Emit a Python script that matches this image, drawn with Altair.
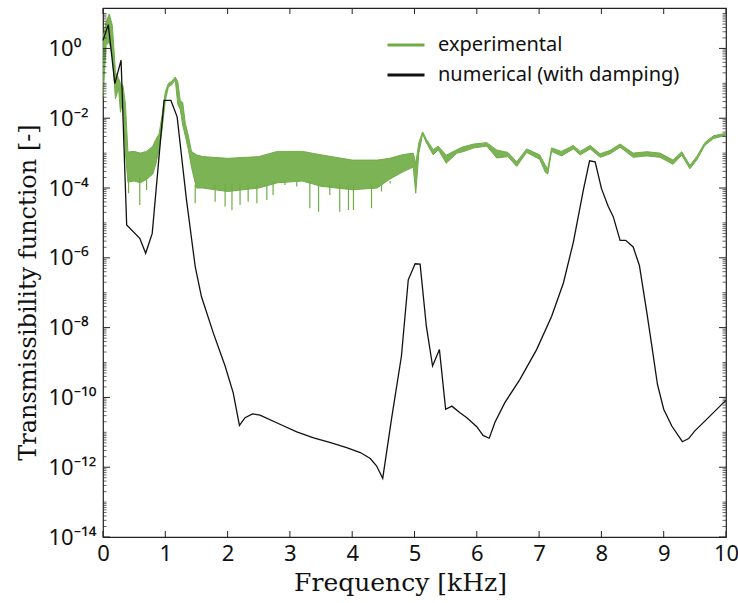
import altair as alt
import pandas as pd

# ---------------- data ----------------
# numerical (with damping): frequency [kHz] and log10 of transmissibility
num_f = [0.0, 0.085, 0.19, 0.29, 0.38, 0.59, 0.685, 0.79, 0.98, 1.09, 1.19, 1.34,
         1.48, 1.58, 1.77, 1.96, 2.09, 2.19, 2.28, 2.40, 2.52, 2.84, 3.11, 3.38,
         3.64, 3.91, 4.13, 4.29, 4.39, 4.49, 4.63, 4.79, 4.90, 5.01, 5.09, 5.19,
         5.29, 5.40, 5.50, 5.60, 5.73, 5.84, 6.00, 6.10, 6.20, 6.29, 6.45, 6.69,
         6.96, 7.20, 7.39, 7.55, 7.71, 7.81, 7.90, 8.00, 8.11, 8.19, 8.30, 8.39,
         8.51, 8.61, 8.73, 8.81, 8.90, 9.00, 9.13, 9.30, 9.40, 9.50, 9.66, 9.96, 10.0]
num_e = [0.23, 0.68, -1.01, -0.34, -5.06, -5.44, -5.87, -5.30, -1.49, -1.49, -1.96, -4.34,
         -6.25, -7.11, -8.15, -9.10, -9.87, -10.80, -10.58, -10.47, -10.51, -10.77, -10.99, -11.16,
         -11.29, -11.44, -11.58, -11.75, -11.96, -12.32, -10.63, -8.82, -6.63, -6.17, -6.18, -7.96,
         -9.10, -8.63, -10.34, -10.25, -10.44, -10.58, -10.84, -11.09, -11.17, -10.72, -10.15, -9.49,
         -8.63, -7.68, -6.72, -5.55, -4.06, -3.22, -3.25, -4.01, -4.53, -4.82, -5.50, -5.50,
         -5.69, -6.22, -7.58, -8.53, -9.63, -10.34, -10.82, -11.27, -11.18, -10.96, -10.68, -10.15, -10.08]

# experimental: lower / upper envelope of the measured trace (log10)
exp_f = [0.0, 0.05, 0.10, 0.15, 0.20, 0.25, 0.28, 0.32, 0.36, 0.40, 0.50, 0.60, 0.70,
         0.80, 0.85, 0.90, 0.95, 1.00, 1.05, 1.10, 1.16, 1.20, 1.24, 1.28, 1.32, 1.37,
         1.42, 1.50, 1.60, 2.00, 2.50, 2.80, 3.20, 3.50, 4.00, 4.40, 4.60, 4.80, 4.98,
         5.02, 5.07, 5.13, 5.19, 5.30, 5.38, 5.51, 5.68, 5.78, 5.95, 6.16, 6.32, 6.50,
         6.64, 6.80, 7.01, 7.10, 7.14, 7.20, 7.36, 7.55, 7.66, 7.82, 7.98, 8.14, 8.30,
         8.51, 8.73, 8.94, 9.15, 9.29, 9.42, 9.53, 9.66, 9.80, 9.98, 10.0]
exp_lo = [-1.43, 0.09, 0.18, -0.20, -1.44, -1.14, -1.83, -1.45, -3.00, -3.83, -3.80, -3.85, -3.75,
          -3.60, -3.30, -2.90, -2.30, -1.50, -1.10, -1.05, -0.90, -1.60, -1.75, -2.20, -2.50, -2.90,
          -3.40, -4.00, -4.00, -4.10, -4.00, -3.85, -3.80, -3.95, -4.05, -4.00, -3.75, -3.55, -3.40,
          -4.15, -3.00, -2.45, -2.70, -3.05, -2.90, -3.29, -3.00, -2.96, -2.85, -2.80, -3.14, -3.10,
          -3.38, -2.98, -3.18, -3.55, -3.60, -2.95, -3.08, -2.88, -3.05, -2.88, -3.12, -3.02, -2.83,
          -3.12, -3.08, -3.12, -3.32, -3.06, -3.45, -3.20, -2.78, -2.58, -2.50, -2.50]
exp_hi = [0.29, 0.75, 0.99, 0.66, -0.68, -0.86, -1.00, -1.06, -1.60, -2.97, -2.95, -3.00, -2.95,
          -2.80, -2.60, -2.45, -1.90, -1.25, -1.00, -0.95, -0.82, -0.95, -1.50, -1.55, -2.14, -2.50,
          -2.95, -3.05, -3.10, -3.15, -3.10, -2.95, -2.95, -3.05, -3.20, -3.20, -3.15, -3.05, -3.00,
          -3.30, -2.70, -2.39, -2.60, -2.90, -2.80, -3.06, -2.90, -2.82, -2.74, -2.70, -2.91, -2.98,
          -3.25, -2.88, -3.05, -3.35, -3.45, -2.85, -2.95, -2.78, -2.95, -2.78, -3.02, -2.92, -2.74,
          -3.00, -2.96, -3.00, -3.20, -2.96, -3.35, -3.10, -2.70, -2.50, -2.44, -2.44]

# downward spikes of the measured trace (log10)
spk_f = [0.41, 0.59, 0.70, 1.48, 1.80, 1.96, 2.07, 2.20, 2.33, 2.47, 2.63, 2.73, 2.92,
         3.11, 3.32, 3.46, 3.64, 3.80, 3.94, 4.02, 4.31, 4.47, 4.61]
spk_top = [-3.7, -3.7, -3.7, -3.9, -3.9, -3.9, -3.9, -3.9, -3.9, -3.9, -3.9, -3.8, -3.8,
           -3.8, -3.8, -3.9, -3.9, -3.9, -3.9, -3.9, -3.9, -3.9, -3.8]
spk_bot = [-4.15, -4.49, -4.06, -4.44, -4.39, -4.53, -4.63, -4.49, -4.39, -4.44, -4.34, -4.20, -3.91,
           -3.96, -4.58, -4.68, -4.20, -4.68, -4.63, -4.63, -4.58, -4.10, -3.87]

series_names = ["experimental", "numerical (with damping)"]
series_colors = ["#70ad47", "#111111"]

# tick positions
x_ticks = list(range(0, 11))
y_major = [10.0 ** k for k in range(-14, 1, 2)]
y_minor = [n * 10.0 ** k for k in range(-14, 2) for n in range(1, 10)
           if n * 10.0 ** k <= 14.0 and not (n == 1 and k % 2 == 0 and k <= 0)]

assert len(num_f) == len(num_e)
assert len(exp_f) == len(exp_lo) == len(exp_hi)
assert len(spk_f) == len(spk_top) == len(spk_bot)

# ---------------- tables ----------------
num_df = pd.DataFrame({"f": num_f, "t": [10.0 ** e for e in num_e], "series": series_names[1]})
exp_df = pd.DataFrame({"f": exp_f, "lo": [10.0 ** e for e in exp_lo],
                       "hi": [10.0 ** e for e in exp_hi], "series": series_names[0]})
spk_df = pd.DataFrame({"f": spk_f, "top": [10.0 ** e for e in spk_top],
                       "bot": [10.0 ** e for e in spk_bot]})
xt_df = pd.DataFrame({"f": x_ticks})
ymaj_df = pd.DataFrame({"v": y_major})
ymin_df = pd.DataFrame({"v": y_minor})

W, H = 623, 529
GREEN = series_colors[0]
TICK = "#222222"
LABEL_FONT = "Noto Sans"
TITLE_FONT = "DejaVu Serif"
xscale = alt.Scale(domain=[0, 10], nice=False, zero=False)
yscale = alt.Scale(type="log", domain=[1e-14, 14.4], nice=False)

sup = {"0": "\u2070", "1": "\u00b9", "2": "\u00b2", "3": "\u00b3", "4": "\u2074",
       "5": "\u2075", "6": "\u2076", "7": "\u2077", "8": "\u2078", "9": "\u2079", "-": "\u207b"}
parts = []
for k in range(-14, 1, 2):
    lab = "10" + "".join(sup[c] for c in str(k))
    parts.append(f"round(log(datum.value)/LN10) == {k} ? '{lab}'")
label_expr = " : ".join(parts) + " : ''"

x_axis = alt.Axis(orient="bottom", values=x_ticks, ticks=False, tickSize=0, domain=False,
                  grid=False, format="d", labelFont=LABEL_FONT, labelFontSize=22,
                  labelFlush=False, labelColor="#111", labelPadding=6,
                  title="Frequency [kHz]", titleFont=TITLE_FONT, titleFontSize=25,
                  titleFontWeight="normal", titleColor="#111", titleX=297, titleY=45,
                  titleBaseline="middle")
y_axis = alt.Axis(orient="left", values=y_major, ticks=False, tickSize=0, domain=False,
                  grid=False, labelExpr=label_expr, labelAlign="left", labelPadding=55,
                  labelOffset=0, labelFont=LABEL_FONT, labelFontSize=22, labelFlush=False,
                  labelColor="#111", title="Transmissibility function [-]",
                  titleFont=TITLE_FONT, titleFontSize=24, titleFontWeight="normal",
                  titleColor="#111", titleX=-75, titleY=284, titleBaseline="middle")


def X(field):
    return alt.X(field, type="quantitative", scale=xscale, axis=x_axis)


def Y(field):
    return alt.Y(field, type="quantitative", scale=yscale, axis=y_axis)


band = alt.Chart(exp_df).mark_area(color=GREEN, opacity=0.92, interpolate="linear").encode(
    x=X("f"), y=Y("lo"), y2="hi:Q")

spikes = alt.Chart(spk_df).mark_rule(color=GREEN, strokeWidth=1.2).encode(
    x=X("f"), y=Y("top"), y2="bot:Q")

color_scale = alt.Scale(domain=series_names, range=series_colors)
legend = alt.Legend(orient="none", legendX=283, legendY=17, title=None, symbolType="stroke",
                    symbolSize=1369, symbolStrokeWidth=3, labelFont=LABEL_FONT,
                    labelFontSize=20, labelColor="#111", labelOffset=12, labelLimit=0,
                    rowPadding=-20, padding=0)

hi_line = alt.Chart(exp_df).mark_line(strokeWidth=1).encode(
    x=X("f"), y=Y("hi"),
    color=alt.Color("series:N", scale=color_scale, legend=legend))
lo_line = alt.Chart(exp_df).mark_line(strokeWidth=1, color=GREEN).encode(
    x=X("f"), y=Y("lo"))
num_line = alt.Chart(num_df).mark_line(strokeWidth=1.3).encode(
    x=X("f"), y=Y("t"),
    color=alt.Color("series:N", scale=color_scale, legend=legend))

# inward ticks on all four sides of the frame
xt_bottom = alt.Chart(xt_df).mark_rule(color=TICK, strokeWidth=1).encode(
    x=X("f"), y=alt.value(H), y2=alt.value(H - 6))
xt_top = alt.Chart(xt_df).mark_rule(color=TICK, strokeWidth=1).encode(
    x=X("f"), y=alt.value(0), y2=alt.value(6))
yt_left_maj = alt.Chart(ymaj_df).mark_rule(color=TICK, strokeWidth=1).encode(
    y=Y("v"), x=alt.value(0), x2=alt.value(7))
yt_right_maj = alt.Chart(ymaj_df).mark_rule(color=TICK, strokeWidth=1).encode(
    y=Y("v"), x=alt.value(W), x2=alt.value(W - 7))
yt_left_min = alt.Chart(ymin_df).mark_rule(color=TICK, strokeWidth=0.7).encode(
    y=Y("v"), x=alt.value(0), x2=alt.value(3.5))
yt_right_min = alt.Chart(ymin_df).mark_rule(color=TICK, strokeWidth=0.7).encode(
    y=Y("v"), x=alt.value(W), x2=alt.value(W - 3.5))

chart = (
    alt.layer(band, spikes, hi_line, lo_line, num_line,
              xt_bottom, xt_top, yt_left_maj, yt_right_maj, yt_left_min, yt_right_min)
    .properties(width=W, height=H, autosize="none",
                padding={"left": 103, "top": 8, "right": 12, "bottom": 66},
                background="white")
    .configure_view(stroke="#222", strokeWidth=1.2)
)

chart.save("out.html", embed_options={"renderer": "svg", "actions": False})
